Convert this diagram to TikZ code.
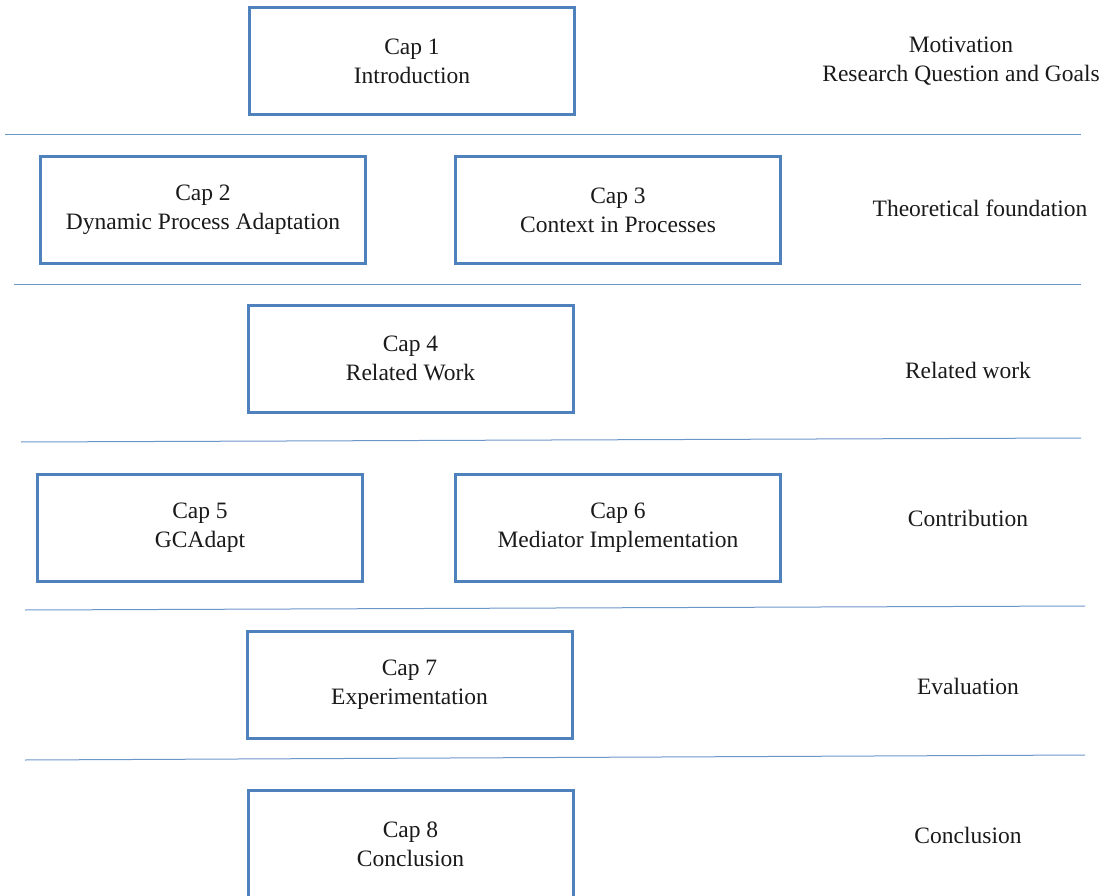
\documentclass[tikz,border=0pt]{standalone}
\usepackage{fontspec}
\setmainfont{Liberation Serif}
\definecolor{boxblue}{HTML}{4F81BD}
\definecolor{ruleblue}{HTML}{6C95C8}
\definecolor{txt}{HTML}{1A1A1A}
\begin{document}
\begin{tikzpicture}[x=1pt,y=-1pt,
  chap/.style={draw=boxblue,line width=3pt,fill=white,minimum width=325pt,minimum height=107pt,
    align=center,font=\fontsize{23.5}{29}\selectfont,text=txt,inner sep=0pt},
  part/.style={align=center,font=\fontsize{23.5}{29}\selectfont,text=txt},
  sep/.style={draw=ruleblue,line width=1pt}]
\useasboundingbox (0,0) rectangle (1106,896);
% chapter boxes
\node[chap] (c1) at (412,61.5) {Cap 1\\Introduction};
\node[chap] (c2) at (203,210) {Cap 2\\Dynamic Process Adaptation};
\node[chap] (c3) at (618,210) {Cap 3\\Context in Processes};
\node[chap] (c4) at (410.5,358.5) {Cap 4\\Related Work};
\node[chap] (c5) at (200,528) {Cap 5\\GCAdapt};
\node[chap] (c6) at (618,528) {Cap 6\\Mediator Implementation};
\node[chap] (c7) at (409.5,685) {Cap 7\\Experimentation};
\node[chap] (c8) at (410.5,844) {Cap 8\\Conclusion};
% part labels
\node[part] (p1) at (961,61.5) {Motivation\\Research Question and Goals};
\node[part] (p2) at (980,208) {Theoretical foundation};
\node[part] (p3) at (968,370) {Related work};
\node[part] (p4) at (968,518) {Contribution};
\node[part] (p5) at (968,686) {Evaluation};
\node[part] (p6) at (968,835) {Conclusion};
% separators
\coordinate (l1a) at (5,135);   \coordinate (l1b) at (1081,135);
\coordinate (l2a) at (14,284);  \coordinate (l2b) at (1081,284);
\coordinate (l3a) at (21,442);  \coordinate (l3b) at (1081,438);
\coordinate (l4a) at (25,610);  \coordinate (l4b) at (1085,606);
\coordinate (l5a) at (25,760);  \coordinate (l5b) at (1085,755);
\foreach \s in {1,...,5} \draw[sep] (l\s a) -- (l\s b);
\end{tikzpicture}
\end{document}
